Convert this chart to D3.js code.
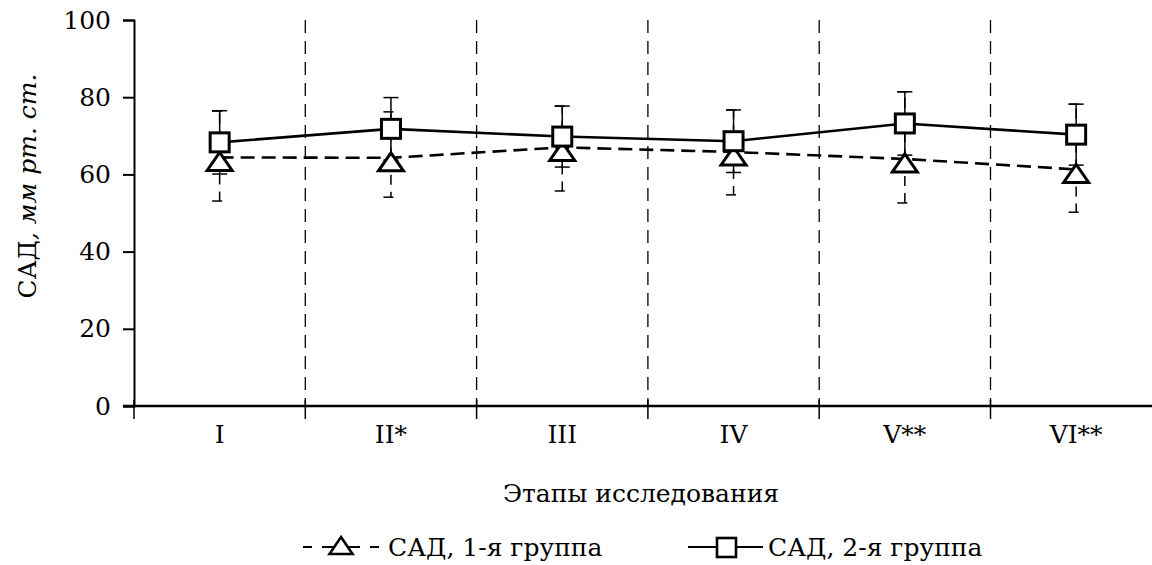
<!DOCTYPE html>
<html>
<head>
<meta charset="utf-8" />
<script src="https://d3js.org/d3.v7.min.js"></script>
<style>
  body { margin: 0; background: #fff; }
  text { font-family: "DejaVu Serif", serif; fill: #000; }
</style>
</head>
<body>
<svg id="chart"></svg>
<script>
// data
var stages = ["I", "II*", "III", "IV", "V**", "VI**"];
var yTicks = [0, 20, 40, 60, 80, 100];

// group 1 (triangles, dashed)
var g1Mean = [64.4, 64.3, 67.0, 65.8, 64.0, 61.3];
var g1Low  = [53.1, 54.1, 55.7, 54.7, 52.6, 50.2];
var g1High = [76.4, 76.2, 77.7, 76.7, 81.4, 78.2];

// group 2 (squares, solid)
var g2Mean = [68.3, 71.8, 69.8, 68.6, 73.2, 70.3];
var g2Sd   = [8.2, 8.1, 7.9, 8.1, 8.2, 7.9];

var legendLabels = ["САД, 1-я группа", "САД, 2-я группа"];

var width = 1152, height = 565;
var svg = d3.select("#chart").attr("width", width).attr("height", height);

var x = d3.scaleBand().domain(stages).range([134, 134 + 6 * 171.3]);
var y = d3.scaleLinear().domain([0, 100]).range([406, 20]);

// vertical dashed separators
svg.append("g").selectAll("line")
  .data(stages.slice(1))
  .enter().append("line")
  .attr("x1", d => x(d)).attr("x2", d => x(d))
  .attr("y1", y(100)).attr("y2", y(0))
  .attr("stroke", "#000").attr("stroke-width", 1.3)
  .attr("stroke-dasharray", "13,8");

// axes
var yAxis = d3.axisLeft(y).tickValues(yTicks).tickSize(11).tickPadding(12);
var gy = svg.append("g").attr("transform", "translate(134,0)").call(yAxis);
gy.select(".domain").attr("stroke-width", 2);
gy.selectAll(".tick line").attr("stroke-width", 2);
gy.selectAll("text").style("font-size", "25px").style("font-family", "DejaVu Serif");

var xAxis = d3.axisBottom(x).tickSize(0).tickPadding(19);
var gx = svg.append("g").attr("transform", "translate(0,406)").call(xAxis);
gx.select(".domain").attr("stroke-width", 2.5).attr("d", "M123,0H1152");
gx.selectAll("text").style("font-size", "25px").style("font-family", "DejaVu Serif");
// boundary ticks of the category axis
svg.append("g").selectAll("line")
  .data(stages)
  .enter().append("line")
  .attr("x1", d => x(d)).attr("x2", d => x(d))
  .attr("y1", 400).attr("y2", 419)
  .attr("stroke", "#000").attr("stroke-width", 1.5);

// axis titles
svg.append("text")
  .attr("x", 641).attr("y", 502)
  .attr("text-anchor", "middle").style("font-size", "25px")
  .text("Этапы исследования");

var yt = svg.append("text")
  .attr("transform", "translate(36,186) rotate(-90)")
  .attr("text-anchor", "middle").style("font-size", "25px");
yt.append("tspan").text("САД");
yt.append("tspan").style("font-style", "italic").text(", мм рт. ст.");

var cx = d => x(d) + x.bandwidth() / 2;

// error bars group 2 (solid)
var eb2 = svg.append("g").attr("stroke", "#000").attr("stroke-width", 1.5);
stages.forEach(function(s, i) {
  var top = y(g2Mean[i] + g2Sd[i]), bot = y(g2Mean[i] - g2Sd[i]);
  eb2.append("line").attr("x1", cx(s)).attr("x2", cx(s)).attr("y1", top).attr("y2", bot);
  eb2.append("line").attr("x1", cx(s) - 7.5).attr("x2", cx(s) + 7.5).attr("y1", top).attr("y2", top);
  eb2.append("line").attr("x1", cx(s) - 7.5).attr("x2", cx(s) + 7.5).attr("y1", bot).attr("y2", bot);
});

// error bars group 1 (dashed)
var eb1 = svg.append("g").attr("stroke", "#000").attr("stroke-width", 1.5)
  .attr("stroke-dasharray", "10,7");
stages.forEach(function(s, i) {
  var top = y(g1High[i]), bot = y(g1Low[i]), m = y(g1Mean[i]);
  eb1.append("line").attr("x1", cx(s)).attr("x2", cx(s)).attr("y1", m).attr("y2", bot);
  eb1.append("line").attr("x1", cx(s)).attr("x2", cx(s)).attr("y1", m).attr("y2", top);
  eb1.append("line").attr("x1", cx(s) - 7.5).attr("x2", cx(s) + 7.5).attr("y1", top).attr("y2", top);
  eb1.append("line").attr("x1", cx(s) - 7.5).attr("x2", cx(s) + 7.5).attr("y1", bot).attr("y2", bot);
});

// lines
var line = d3.line().x((d, i) => cx(stages[i])).y(d => y(d));
svg.append("path").datum(g1Mean).attr("d", line)
  .attr("fill", "none").attr("stroke", "#000").attr("stroke-width", 2.6)
  .attr("stroke-dasharray", "14,7");
svg.append("path").datum(g2Mean).attr("d", line)
  .attr("fill", "none").attr("stroke", "#000").attr("stroke-width", 2.6);

function triPath(px, py, w, h, up) {
  return "M" + px + "," + (py - up) + "L" + (px + w / 2) + "," + (py - up + h) +
         "L" + (px - w / 2) + "," + (py - up + h) + "Z";
}

// markers
svg.append("g").selectAll("path")
  .data(g1Mean).enter().append("path")
  .attr("d", (d, i) => triPath(cx(stages[i]), y(d), 25, 18, 5))
  .attr("fill", "#fff").attr("stroke", "#000").attr("stroke-width", 3)
  .attr("stroke-linejoin", "miter");

svg.append("g").selectAll("rect")
  .data(g2Mean).enter().append("rect")
  .attr("x", (d, i) => cx(stages[i]) - 9.5).attr("y", d => y(d) - 9.5)
  .attr("width", 19).attr("height", 19)
  .attr("fill", "#fff").attr("stroke", "#000").attr("stroke-width", 3);

// legend
var lg = svg.append("g");
lg.append("line").attr("x1", 303).attr("x2", 379).attr("y1", 547).attr("y2", 547)
  .attr("stroke", "#000").attr("stroke-width", 2.2).attr("stroke-dasharray", "9,10,12,14,12,10,9");
lg.append("path").attr("d", triPath(341, 547, 23, 17, 10))
  .attr("fill", "#fff").attr("stroke", "#000").attr("stroke-width", 2.6);
lg.append("text").attr("x", 388).attr("y", 556).style("font-size", "25px").text(legendLabels[0]);

lg.append("line").attr("x1", 688).attr("x2", 763).attr("y1", 547).attr("y2", 547)
  .attr("stroke", "#000").attr("stroke-width", 2.2);
lg.append("rect").attr("x", 717).attr("y", 538).attr("width", 19).attr("height", 19)
  .attr("fill", "#fff").attr("stroke", "#000").attr("stroke-width", 2.6);
lg.append("text").attr("x", 768).attr("y", 556).style("font-size", "25px").text(legendLabels[1]);
</script>
</body>
</html>
